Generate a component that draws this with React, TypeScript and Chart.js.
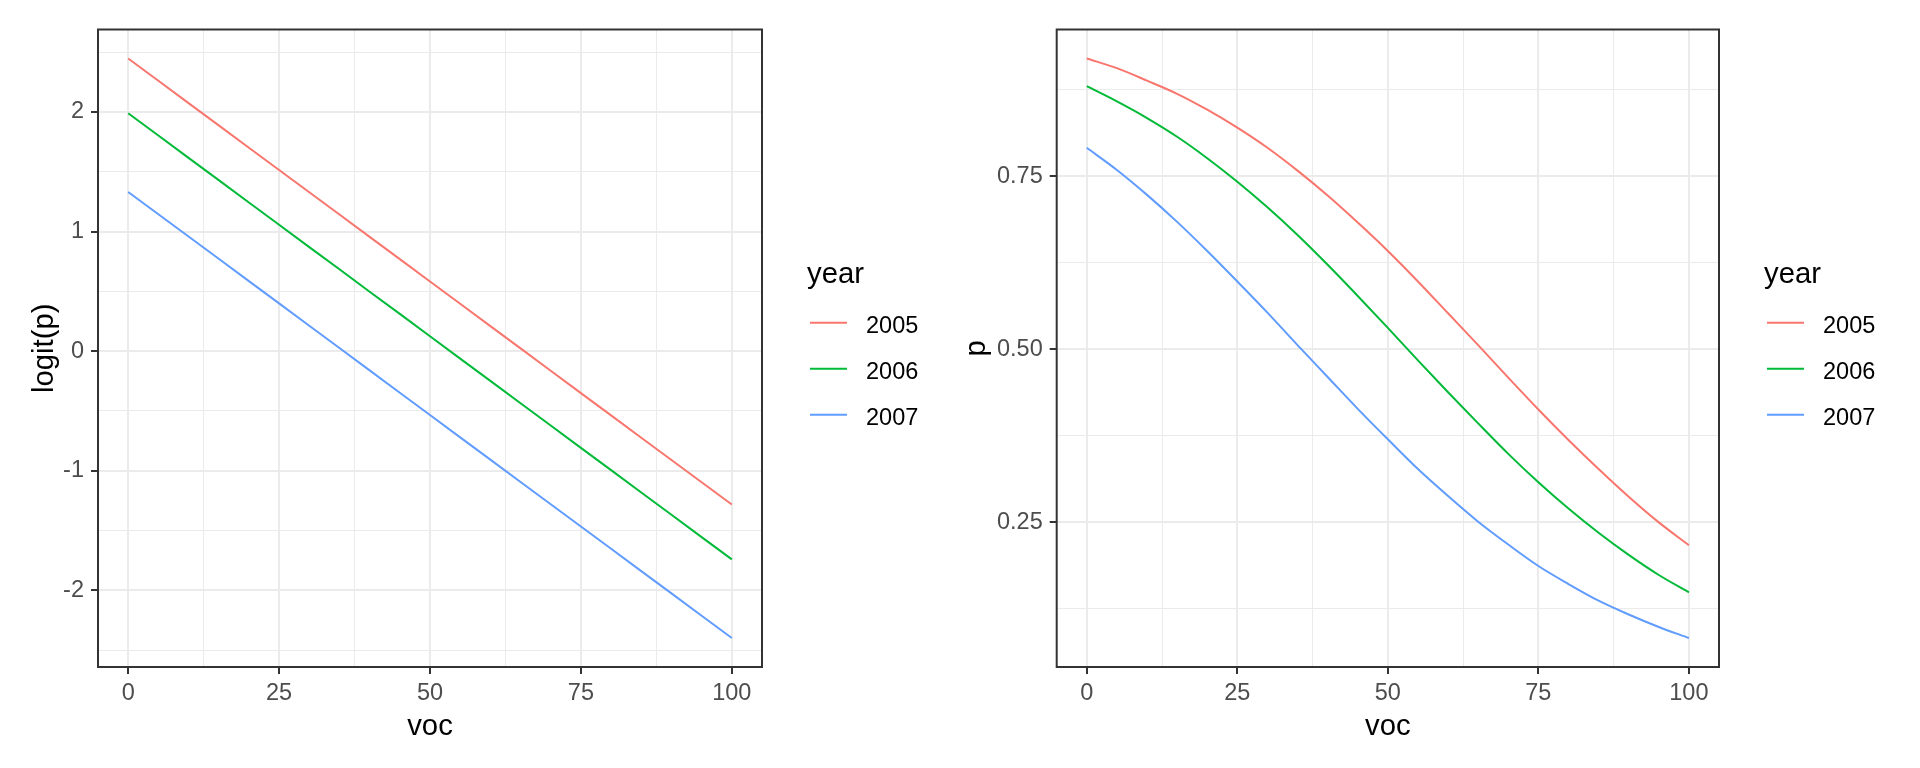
import React, { useEffect, useRef } from "react";
import { Chart, registerables } from "chart.js";

Chart.register(...registerables);

// ---------- data ----------
const VOC = [0, 5, 10, 15, 20, 25, 30, 35, 40, 45, 50, 55, 60, 65, 70, 75, 80, 85, 90, 95, 100];
const YEARS = ["2005", "2006", "2007"];

const LOGIT_2005 = [2.447, 2.261, 2.074, 1.888, 1.701, 1.515, 1.328, 1.142, 0.955, 0.769, 0.582, 0.396, 0.209, 0.023, -0.164, -0.351, -0.537, -0.724, -0.91, -1.097, -1.283];
const LOGIT_2006 = [1.989, 1.803, 1.616, 1.43, 1.243, 1.057, 0.87, 0.684, 0.497, 0.311, 0.124, -0.063, -0.249, -0.436, -0.622, -0.809, -0.995, -1.182, -1.368, -1.555, -1.741];
const LOGIT_2007 = [1.331, 1.145, 0.958, 0.772, 0.585, 0.399, 0.212, 0.026, -0.161, -0.348, -0.534, -0.721, -0.907, -1.094, -1.28, -1.467, -1.653, -1.84, -2.026, -2.213, -2.399];

const P_2005 = [0.92, 0.906, 0.888, 0.869, 0.846, 0.82, 0.791, 0.758, 0.722, 0.683, 0.642, 0.598, 0.552, 0.506, 0.459, 0.413, 0.369, 0.327, 0.287, 0.25, 0.217];
const P_2006 = [0.88, 0.858, 0.834, 0.807, 0.776, 0.742, 0.705, 0.665, 0.622, 0.577, 0.531, 0.484, 0.438, 0.393, 0.349, 0.308, 0.27, 0.235, 0.203, 0.174, 0.149];
const P_2007 = [0.791, 0.759, 0.723, 0.684, 0.642, 0.598, 0.553, 0.506, 0.46, 0.414, 0.37, 0.327, 0.288, 0.251, 0.218, 0.187, 0.161, 0.137, 0.117, 0.099, 0.083];

const VOC_TICKS = [0, 25, 50, 75, 100];
const VOC_TICK_LABELS = ["0", "25", "50", "75", "100"];
const VOC_MINOR = [12.5, 37.5, 62.5, 87.5];

const LOGIT_TICKS = [-2, -1, 0, 1, 2];
const LOGIT_TICK_LABELS = ["-2", "-1", "0", "1", "2"];
const LOGIT_MINOR = [-2.5, -1.5, -0.5, 0.5, 1.5, 2.5];

const P_TICKS = [0.25, 0.5, 0.75];
const P_TICK_LABELS = ["0.25", "0.50", "0.75"];
const P_MINOR = [0.125, 0.375, 0.625, 0.875];

const LEGEND_TITLE = "year";
const X_TITLE = "voc";
const LEFT_Y_TITLE = "logit(p)";
const RIGHT_Y_TITLE = "p";

// ---------- styles ----------
const COLORS = ["#F8766D", "#00BA38", "#619CFF"];
const FONT = '"Liberation Sans", Arial, Helvetica, sans-serif';
const TICK_SIZE = 23.5;
const TITLE_SIZE = 29.3;
const GRID = "#EBEBEB";
const DARK = "#333333";

function expand(values: number[]): [number, number] {
  const mn = Math.min(...values);
  const mx = Math.max(...values);
  const r = mx - mn;
  return [mn - 0.05 * r, mx + 0.05 * r];
}

const borderPlugin = {
  id: "ggBorder",
  afterDatasetsDraw(chart: any) {
    const { ctx, chartArea } = chart;
    ctx.save();
    ctx.strokeStyle = DARK;
    ctx.lineWidth = 2;
    ctx.strokeRect(chartArea.left, chartArea.top, chartArea.right - chartArea.left, chartArea.bottom - chartArea.top);
    ctx.restore();
  },
};

const legendPlugin = {
  id: "ggLegend",
  afterDraw(chart: any) {
    const { ctx, chartArea } = chart;
    const x0 = chartArea.right;
    ctx.save();
    ctx.fillStyle = "#000000";
    ctx.textAlign = "left";
    ctx.textBaseline = "alphabetic";
    ctx.font = `${TITLE_SIZE}px ${FONT}`;
    ctx.fillText(LEGEND_TITLE, x0 + 45, 283);
    ctx.font = `${TICK_SIZE}px ${FONT}`;
    chart.data.datasets.forEach((ds: any, i: number) => {
      const y = 322.7 + i * 46;
      ctx.strokeStyle = ds.borderColor;
      ctx.lineWidth = 2;
      ctx.beginPath();
      ctx.moveTo(x0 + 48, y);
      ctx.lineTo(x0 + 85, y);
      ctx.stroke();
      ctx.fillText(ds.label, x0 + 104, y + 10.3);
    });
    ctx.restore();
  },
};

function axisOptions(
  range: [number, number],
  major: number[],
  majorLabels: string[],
  minor: number[],
  title: string,
  isX: boolean,
  size: number,
  titlePad: number
) {
  const all = [...minor, ...major].sort((a, b) => a - b);
  const isMajor = (v: number) => major.indexOf(v) >= 0;
  return {
    type: "linear",
    min: range[0],
    max: range[1],
    afterBuildTicks: (s: any) => {
      s.ticks = all.map((v) => ({ value: v }));
    },
    afterFit: (s: any) => {
      if (isX) s.height = size;
      else s.width = size;
    },
    ticks: {
      autoSkip: false,
      maxRotation: 0,
      padding: isX ? 5 : 7,
      color: "#4D4D4D",
      font: { family: FONT, size: TICK_SIZE },
      callback: (v: number) => {
        const k = major.indexOf(v);
        return k >= 0 ? majorLabels[k] : "";
      },
    },
    grid: {
      color: GRID,
      lineWidth: (c: any) => (c.tick && isMajor(c.tick.value) ? 2 : 1),
      tickColor: (c: any) => (c.tick && isMajor(c.tick.value) ? DARK : "rgba(0,0,0,0)"),
      tickLength: 7,
      tickWidth: 2,
      drawOnChartArea: true,
      drawTicks: true,
    },
    border: { display: false },
    title: {
      display: true,
      text: title,
      color: "#000000",
      font: { family: FONT, size: TITLE_SIZE, lineHeight: 1 },
      padding: isX ? { top: 0, bottom: titlePad } : { top: titlePad, bottom: 0 },
    },
  };
}

function buildConfig(
  series: number[][],
  yMajor: number[],
  yLabels: string[],
  yMinor: number[],
  yTitle: string,
  yAxisWidth: number,
  padRight: number,
  yTitlePad: number,
  smooth: boolean
): any {
  const all: number[] = ([] as number[]).concat(...series);
  return {
    type: "line",
    data: {
      datasets: YEARS.map((label, i) => ({
        label,
        data: VOC.map((x, j) => ({ x, y: series[i][j] })),
        borderColor: COLORS[i],
        backgroundColor: COLORS[i],
        borderWidth: 2,
        pointRadius: 0,
        tension: smooth ? 0.4 : 0,
        cubicInterpolationMode: smooth ? "monotone" : "default",
        fill: false,
      })),
    },
    options: {
      responsive: false,
      animation: false,
      devicePixelRatio: 1,
      layout: { padding: { left: 0, top: 29.5, right: padRight, bottom: 0 } },
      plugins: { legend: { display: false }, tooltip: { enabled: false } },
      scales: {
        x: axisOptions(expand(VOC), VOC_TICKS, VOC_TICK_LABELS, VOC_MINOR, X_TITLE, true, 101, 26),
        y: axisOptions(expand(all), yMajor, yLabels, yMinor, yTitle, false, yAxisWidth, yTitlePad),
      },
    },
    plugins: [borderPlugin, legendPlugin],
  };
}

function Panel({ config, left }: { config: any; left: number }) {
  const ref = useRef<HTMLCanvasElement>(null);
  useEffect(() => {
    const chart = new Chart(ref.current as HTMLCanvasElement, config);
    return () => chart.destroy();
  }, []);
  return (
    <canvas
      ref={ref}
      width={960}
      height={768}
      style={{ position: "absolute", left, top: 0, width: 960, height: 768, display: "block" }}
    />
  );
}

export default function App() {
  const leftCfg = buildConfig([LOGIT_2005, LOGIT_2006, LOGIT_2007], LOGIT_TICKS, LOGIT_TICK_LABELS, LOGIT_MINOR, LEFT_Y_TITLE, 98, 198, 30.5, false);
  const rightCfg = buildConfig([P_2005, P_2006, P_2007], P_TICKS, P_TICK_LABELS, P_MINOR, RIGHT_Y_TITLE, 96.7, 201, 2.5, true);
  return (
    <div style={{ position: "absolute", left: 0, top: 0, width: 1920, height: 768, background: "#ffffff", overflow: "hidden" }}>
      <Panel config={leftCfg} left={0} />
      <Panel config={rightCfg} left={960} />
    </div>
  );
}
